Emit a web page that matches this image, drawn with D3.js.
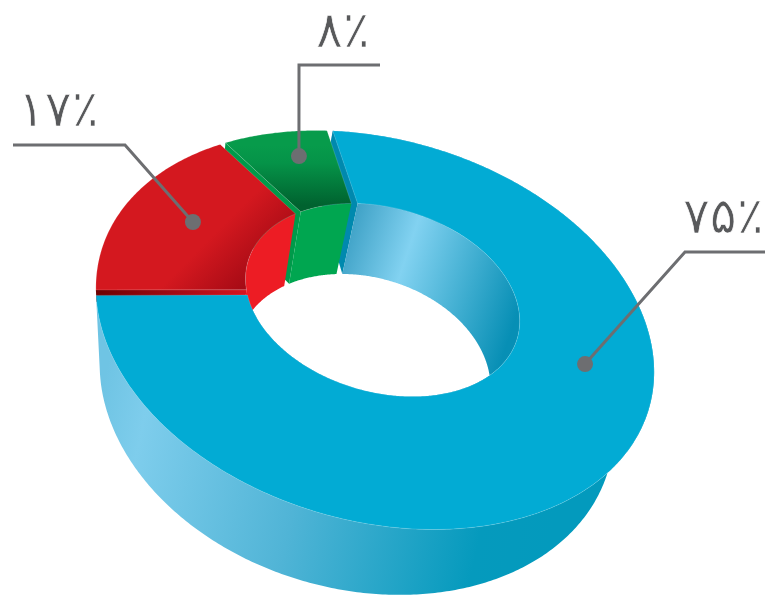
<!DOCTYPE html>
<html lang="fa">
<head>
<meta charset="utf-8">
<title>donut</title>
<script src="https://cdn.jsdelivr.net/npm/d3@7/dist/d3.min.js"></script>
<style>
  html, body { margin: 0; padding: 0; background: #fff; }
  svg { display: block; }
  text { font-family: "DejaVu Sans", sans-serif; direction: ltr; fill: #58595b; stroke: #fff; stroke-width: 0.7; }
</style>
</head>
<body>
<div id="chart"></div>
<script>
var categories = ['blue', 'red', 'green']
var values = [75, 17, 8]
var labels = ['۷۵٪', '۱۷٪', '۸٪']
// where the leader dot sits inside each slice: share of the slice's sweep, radius
var dotShare = [0.4565, 0.479, 0.573]
var dotRadius = [0.753, 0.748, 0.821]

var width = 765
var height = 598

// the ring plane is seen through a perspective camera:
// ellipse of the outer rim, image of the ring centre, vanishing point of the vertical
var rim = { cx: 375, cy: 330, a: 285, b: 191, tilt: 15.8 * Math.PI / 180 }
var centre = [-0.0039, -0.2325]
var vanish = [141, 1200]
var ringDepth = 0.084

var outerR = 1
var innerR = 0.5
var holeOffset = [0, 0.015]
var gap = 0.013
var startDeg = -25

var cLen = Math.hypot(centre[0], centre[1])
var cDir = [centre[0] / cLen, centre[1] / cLen]
var cShrink = Math.sqrt(1 - cLen * cLen)

// unit disc -> screen, t is the depth below the top face
function project (q, t) {
  var dot = q[0] * centre[0] + q[1] * centre[1]
  var along = q[0] * cDir[0] + q[1] * cDir[1]
  var par = [along * cDir[0], along * cDir[1]]
  var nx = centre[0] + par[0] + cShrink * (q[0] - par[0])
  var ny = centre[1] + par[1] + cShrink * (q[1] - par[1])
  var w = 1 + dot
  var ex = nx * rim.a
  var ey = ny * rim.b
  var cos = Math.cos(rim.tilt)
  var sin = Math.sin(rim.tilt)
  var X = rim.cx * w + ex * cos - ey * sin
  var Y = rim.cy * w + ex * sin + ey * cos
  t = t || 0
  return [(X + vanish[0] * t) / (w + t), (Y + vanish[1] * t) / (w + t)]
}

function outerAt (a) {
  return [outerR * Math.sin(a), -outerR * Math.cos(a)]
}
function innerAt (a) {
  return [holeOffset[0] + innerR * Math.sin(a), holeOffset[1] - innerR * Math.cos(a)]
}
function sweep (a0, a1) {
  var n = Math.ceil(Math.abs(a1 - a0) / 0.01)
  return d3.range(n + 1).map(function (i) { return a0 + (a1 - a0) * i / n })
}

var line = d3.line().curve(d3.curveLinear)
function poly (pts) { return line(pts) + 'Z' }

var pie = d3.pie().sort(null)
  .startAngle(startDeg * Math.PI / 180)
  .endAngle(startDeg * Math.PI / 180 + 2 * Math.PI)
var arcs = pie(values)

var svg = d3.select('#chart').append('svg')
  .attr('width', width)
  .attr('height', height)
var defs = svg.append('defs')

function gradient (id, x1, y1, x2, y2, stops) {
  var g = defs.append('linearGradient').attr('id', id)
    .attr('gradientUnits', 'userSpaceOnUse')
    .attr('x1', x1).attr('y1', y1).attr('x2', x2).attr('y2', y2)
  stops.forEach(function (s) {
    g.append('stop').attr('offset', s[0]).attr('stop-color', s[1])
  })
}
gradient('blueOuter', 100, 400, 560, 500, [[0, '#6fc4e4'], [0.1, '#7ecdec'], [0.45, '#50b4d6'], [0.85, '#059abd'], [1, '#039abd']])
gradient('blueInner', 345, 230, 525, 290, [[0, '#3b9fc4'], [0.35, '#82d2f1'], [1, '#078fb5']])
gradient('redTop', 170, 175, 285, 290, [[0, '#d4181f'], [0.45, '#d4181f'], [1, '#8e0410']])
gradient('greenTop', 0, 145, 0, 205, [[0, '#079b4b'], [0.3, '#059348'], [1, '#00622f']])
gradient('redWall', 96, 0, 250, 0, [[0, '#6d0000'], [0.5, '#a00a14'], [1, '#d8141f']])

var colors = {
  blue: { top: '#02abd4', inner: 'url(#blueInner)', side: '#0089ae', sideDepth: ringDepth },
  red: { top: 'url(#redTop)', inner: '#ed1c24', side: 'url(#redWall)', sideDepth: 0.012 },
  green: { top: 'url(#greenTop)', inner: '#00a650', side: '#009a4a', sideDepth: ringDepth }
}

var slices = arcs.map(function (d, i) {
  var name = categories[i]
  var outerArc = sweep(d.startAngle + gap / outerR, d.endAngle - gap / outerR)
  var innerArc = sweep(d.startAngle + gap / innerR, d.endAngle - gap / innerR)
  return { name: name, arc: d, outerArc: outerArc, innerArc: innerArc, color: colors[name] }
})

var back = svg.append('g')
var walls = svg.append('g')
var tops = svg.append('g')
var leaders = svg.append('g')

// front face of the big slice, it is the only one that shows from this side
var big = slices[0]
back.append('path')
  .attr('fill', 'url(#blueOuter)')
  .attr('d', poly(
    big.outerArc.map(function (a) { return project(outerAt(a), 0) })
      .concat(big.outerArc.slice().reverse().map(function (a) { return project(outerAt(a), ringDepth) }))
  ))

// cut faces, seen through the gaps between the slices
walls.selectAll('path.side').data(slices).enter().append('path')
  .attr('class', 'side')
  .attr('fill', function (d) { return d.color.side })
  .attr('d', function (d) {
    var o = d.outerArc[0]
    var n = d.innerArc[0]
    var t = d.color.sideDepth
    return poly([
      project(outerAt(o), 0), project(innerAt(n), 0),
      project(innerAt(n), t), project(outerAt(o), t)
    ])
  })

// wall of the hole
walls.selectAll('path.inner').data(slices).enter().append('path')
  .attr('class', 'inner')
  .attr('fill', function (d) { return d.color.inner })
  .attr('d', function (d) {
    return poly(
      d.innerArc.map(function (a) { return project(innerAt(a), 0) })
        .concat(d.innerArc.slice().reverse().map(function (a) { return project(innerAt(a), ringDepth) }))
    )
  })

// top faces, with the thin light edge they have where they meet a wall
tops.selectAll('path').data(slices.slice().reverse()).enter().append('path')
  .attr('fill', function (d) { return d.color.top })
  .attr('stroke', '#fff')
  .attr('stroke-opacity', 0.3)
  .attr('stroke-width', 0.5)
  .attr('d', function (d) {
    return poly(
      d.outerArc.map(function (a) { return project(outerAt(a), 0) })
        .concat(d.innerArc.slice().reverse().map(function (a) { return project(innerAt(a), 0) }))
    )
  })

// leader lines and labels
var elbows = [
  { bend: [685, 252], end: [765, 252], label: [683, 233], spacing: 2 },
  { bend: [125, 145], end: [13, 145], label: [18, 126], spacing: 1 },
  { bend: [299, 65], end: [380, 65], label: [316, 47], spacing: 1 }
]
slices.forEach(function (s, i) {
  var a = s.arc.startAngle + (s.arc.endAngle - s.arc.startAngle) * dotShare[i]
  var r = dotRadius[i]
  var dot = project([r * Math.sin(a), -r * Math.cos(a)], 0)
  var e = elbows[i]
  leaders.append('path')
    .attr('fill', 'none')
    .attr('stroke', '#6d6e71')
    .attr('stroke-width', 3)
    .attr('d', line([dot, e.bend, e.end]))
  leaders.append('circle')
    .attr('cx', dot[0]).attr('cy', dot[1]).attr('r', 8)
    .attr('fill', '#6d6e71')
  leaders.append('text')
    .attr('x', e.label[0]).attr('y', e.label[1])
    .attr('font-size', 50)
    .attr('letter-spacing', e.spacing)
    .text(labels[i])
})
</script>
</body>
</html>
